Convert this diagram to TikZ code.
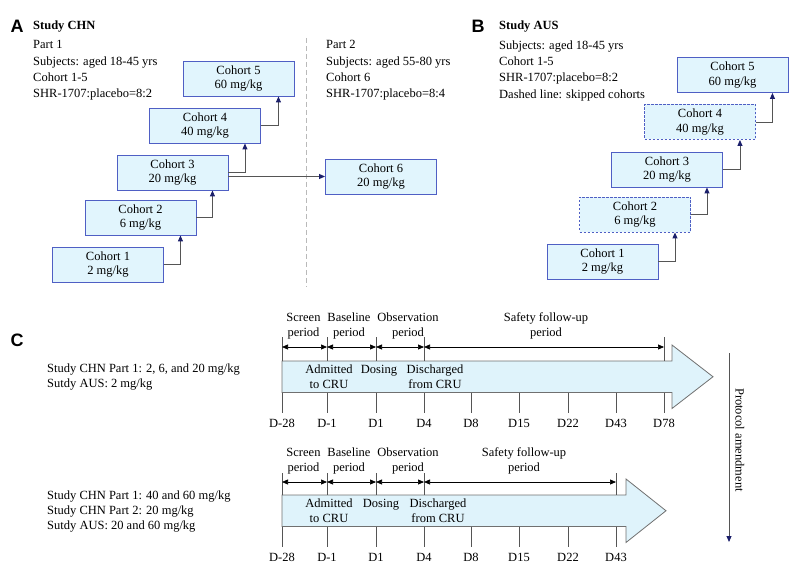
\documentclass[tikz,border=0pt]{standalone}
\usepackage{fontspec}
\setmainfont{Liberation Serif}
\newfontfamily\panelfont{Liberation Sans}
\usetikzlibrary{arrows.meta}
\definecolor{boxfill}{HTML}{E1F5FD}
\definecolor{boxline}{HTML}{4F5FC4}
\definecolor{linkgray}{HTML}{555555}
\definecolor{tipnavy}{HTML}{1B1F6B}
\definecolor{bodyfill}{HTML}{DFF3FB}
\definecolor{bodyline}{HTML}{707070}
\tikzset{
  cohort/.style={draw=boxline, fill=boxfill, line width=0.9pt, minimum width=111pt, minimum height=35pt,
    inner sep=0pt, align=center, font=\fontsize{12.5}{14.5}\selectfont},
  skipped/.style={cohort, dash pattern=on 2.5pt off 1.5pt},
  link/.style={draw=linkgray, line width=0.9pt, -{Triangle[length=6pt,width=5pt,color=tipnavy]}},
  info/.style={anchor=north west, inner sep=0pt, align=left, font=\fontsize{12.5}{16.3}\selectfont},
  panel/.style={font=\panelfont\bfseries\fontsize{18}{18}\selectfont, inner sep=0pt},
  title/.style={anchor=base west, inner sep=0pt, font=\bfseries\fontsize{12.5}{15}\selectfont},
  divider/.style={draw=gray!55, line width=0.8pt, dash pattern=on 5pt off 3pt},
  body/.style={draw=bodyline, fill=bodyfill, line width=0.8pt},
  tick/.style={draw=linkgray, line width=0.8pt},
  period/.style={{Triangle[length=6pt,width=5pt]}-{Triangle[length=6pt,width=5pt]}, line width=0.7pt},
  phase/.style={anchor=south, inner sep=0pt, align=center, font=\fontsize{12.5}{14.5}\selectfont},
  event/.style={anchor=north, inner sep=0pt, align=center, font=\fontsize{12.5}{15}\selectfont},
  day/.style={inner sep=0pt}
}
\begin{document}
\begin{tikzpicture}[x=1pt, y=-1pt, font=\fontsize{12.5}{15}\selectfont]
\useasboundingbox (0,0) rectangle (800,569);

\node[panel] (pa) at (17,26) {A};
\node[title] (ta) at (33,30) {Study CHN};
\node[info] (pa1) at (33,40.5) {Part 1\\Subjects: aged 18-45 yrs\\Cohort 1-5\\SHR-1707:placebo=8:2};
\node[info] (pa2) at (326,40.5) {Part 2\\Subjects: aged 55-80 yrs\\Cohort 6\\SHR-1707:placebo=8:4};
\draw[divider] (306,38) -- (306,287);

\node[cohort] (a1) at (108,264.5) {Cohort 1\\2 mg/kg};
\node[cohort] (a2) at (140.5,217.5) {Cohort 2\\6 mg/kg};
\node[cohort] (a3) at (172.5,172.5) {Cohort 3\\20 mg/kg};
\node[cohort] (a4) at (205,125.5) {Cohort 4\\40 mg/kg};
\node[cohort] (a5) at (238.5,78.5) {Cohort 5\\60 mg/kg};
\node[cohort] (a6) at (381,176.5) {Cohort 6\\20 mg/kg};
\draw[link] (a1.east) -| ([xshift=-16pt]a2.south east);
\draw[link] (a2.east) -| ([xshift=-16pt]a3.south east);
\draw[link] (a3.east) -| ([xshift=-16pt]a4.south east);
\draw[link] (a4.east) -| ([xshift=-16pt]a5.south east);
\draw[link] (a3.east |- a6.west) -- (a6.west);

\node[panel] (pb) at (478,26) {B};
\node[title] (tb) at (499,30) {Study AUS};
\node[info] (pb1) at (499,40.5) {Subjects: aged 18-45 yrs\\Cohort 1-5\\SHR-1707:placebo=8:2\\Dashed line: skipped cohorts};

\node[cohort] (b1) at (602.5,261.5) {Cohort 1\\2 mg/kg};
\node[skipped] (b2) at (635,214.5) {Cohort 2\\6 mg/kg};
\node[cohort] (b3) at (667,169.5) {Cohort 3\\20 mg/kg};
\node[skipped] (b4) at (700,122) {Cohort 4\\40 mg/kg};
\node[cohort] (b5) at (732.5,75) {Cohort 5\\60 mg/kg};
\draw[link] (b1.east) -| ([xshift=-16pt]b2.south east);
\draw[link] (b2.east) -| ([xshift=-16pt]b3.south east);
\draw[link] (b3.east) -| ([xshift=-16pt]b4.south east);
\draw[link] (b4.east) -| ([xshift=-16pt]b5.south east);

\node[panel] (pc) at (17,340) {C};
\node[info, font=\fontsize{12.5}{14.5}\selectfont] (c1) at (47,364) {Study CHN Part 1: 2, 6, and 20 mg/kg\\Sutdy AUS: 2 mg/kg};
\node[info, font=\fontsize{12.5}{15}\selectfont] (c2) at (47,490.5) {Study CHN Part 1: 40 and 60 mg/kg\\Study CHN Part 2: 20 mg/kg\\Sutdy AUS: 20 and 60 mg/kg};

\draw[body] (282,361) -- (672,361) -- (672,345) -- (713,376.75) -- (672,408.5) -- (672,392.5) -- (282,392.5) -- cycle;
\foreach \x/\d [count=\i] in {282/D-28, 327/D-1, 376/D1, 424/D4, 471/D8, 519/D15, 568/D22, 616/D43, 664/D78}
  \draw[tick] (\x,392.5) -- (\x,413) node[day] (ud\i) at (\x,423) {\d};
\foreach \x [count=\i] in {282, 327, 376, 424, 664}
  \coordinate (up\i) at (\x,347);
\foreach \x in {282, 327, 376, 424, 664}
  \draw[tick] (\x,337) -- (\x,361);
\draw[period] (up1) -- (up2);
\draw[period] (up2) -- (up3);
\draw[period] (up3) -- (up4);
\draw[period] (up4) -- (up5);
\node[phase] (us) at (303.5,339) {Screen\\period};
\node[phase] (ub) at (349,339) {Baseline\\period};
\node[phase] (uo) at (408,339) {Observation\\period};
\node[phase] (uf) at (546,339) {Safety follow-up\\period};
\node[event] (uadm) at (329,365) {Admitted\\to CRU};
\node[event] (udos) at (379,365) {Dosing};
\node[event] (udis) at (435,365) {Discharged\\from CRU};

\draw[body] (282,495) -- (626,495) -- (626,479) -- (666,510.75) -- (626,542.5) -- (626,526.5) -- (282,526.5) -- cycle;
\foreach \x/\d [count=\i] in {282/D-28, 327/D-1, 376/D1, 424/D4, 471/D8, 519/D15, 568/D22, 616/D43}
  \draw[tick] (\x,526.5) -- (\x,547) node[day] (ld\i) at (\x,557) {\d};
\foreach \x [count=\i] in {282, 327, 376, 424, 616}
  \coordinate (lp\i) at (\x,482);
\foreach \x in {282, 327, 376, 424, 616}
  \draw[tick] (\x,473) -- (\x,495);
\draw[period] (lp1) -- (lp2);
\draw[period] (lp2) -- (lp3);
\draw[period] (lp3) -- (lp4);
\draw[period] (lp4) -- (lp5);
\node[phase] (ls) at (303.5,474) {Screen\\period};
\node[phase] (lb) at (349,474) {Baseline\\period};
\node[phase] (lo) at (408,474) {Observation\\period};
\node[phase] (lf) at (524,474) {Safety follow-up\\period};
\node[event] (ladm) at (329,499) {Admitted\\to CRU};
\node[event] (ldos) at (381,499) {Dosing};
\node[event] (ldis) at (438,499) {Discharged\\from CRU};

\coordinate (amd1) at (729,353);
\coordinate (amd2) at (729,542);
\draw[link] (amd1) -- (amd2);
\node[rotate=-90, inner sep=0pt] (amd) at (740,440) {Protocol amendment};
\end{tikzpicture}
\end{document}
